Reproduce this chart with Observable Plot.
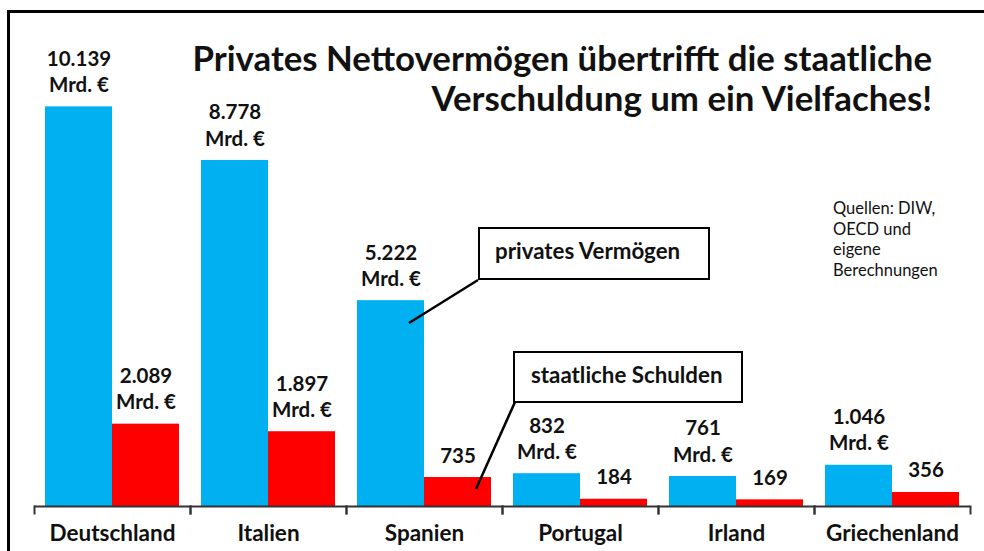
<!DOCTYPE html>
<html>
<head>
<meta charset="utf-8">
<script src="https://cdn.jsdelivr.net/npm/d3@7"></script>
<script src="https://cdn.jsdelivr.net/npm/@observablehq/plot@0.6"></script>
<style>
  html, body { margin: 0; padding: 0; background: #fff; overflow: hidden; }
  #wrap { position: relative; width: 984px; height: 551px; font-family: Lato, "Open Sans", sans-serif; color: #111; }
  #wrap svg.plot { position: absolute; left: 0; top: 0; }
  #border { position: absolute; left: 7px; top: 10px; width: 1100px; height: 700px; border: 3px solid #000; box-sizing: border-box; pointer-events: none; }
  #title { position: absolute; right: 52px; top: 38px; text-align: right; font-weight: 700; font-size: 34.8px; line-height: 40px; white-space: nowrap; }
  #sources { position: absolute; left: 833px; top: 198px; font-size: 16.5px; line-height: 20.7px; }
  .box { position: absolute; border: 2.5px solid #000; box-sizing: border-box; background: #fff; font-weight: 700; font-size: 22.3px; display: flex; align-items: center; padding-bottom: 6px; white-space: nowrap; }
  #anno { position: absolute; left: 0; top: 0; }
</style>
</head>
<body>
<div id="wrap">
  <div id="chart"></div>
  <div id="border"></div>
  <div id="title">Privates Nettovermögen übertrifft die staatliche<br>Verschuldung um ein Vielfaches!</div>
  <div id="sources">Quellen: DIW,<br>OECD und<br>eigene<br>Berechnungen</div>
  <svg id="anno" width="984" height="551">
    <line x1="478" y1="280" x2="409" y2="323" stroke="#000" stroke-width="2.5"/>
    <line x1="515" y1="402" x2="476" y2="489" stroke="#000" stroke-width="2.5"/>
  </svg>
  <div class="box" style="left:478px; top:227px; width:232px; height:53px; padding-left:15px;">privates Vermögen</div>
  <div class="box" style="left:513px; top:351px; width:230px; height:52px; padding-left:16px;">staatliche Schulden</div>
</div>
<script>
// ---- data ----
const countries = ["Deutschland", "Italien", "Spanien", "Portugal", "Irland", "Griechenland"];
const seriesNames = ["privates Vermögen", "staatliche Schulden"];
const privatesVermoegen = [10139, 8778, 5222, 832, 761, 1046];   // Mrd. €
const staatlicheSchulden = [2089, 1897, 735, 184, 169, 356];     // Mrd. €
const unitShownPrivate = [true, true, true, true, true, true];
const unitShownDebt = [true, true, false, false, false, false];
const unitLabel = "Mrd. €";
const seriesColors = ["#00B0F0", "#FF0000"];

const de = d3.formatLocale({decimal: ",", thousands: ".", grouping: [3], currency: ["", " €"]});
const fmt = de.format(",d");

const rows = countries.flatMap((c, i) => [
  {country: c, series: seriesNames[0], value: privatesVermoegen[i], unit: unitShownPrivate[i]},
  {country: c, series: seriesNames[1], value: staatlicheSchulden[i], unit: unitShownDebt[i]}
]).map(d => ({...d, label: fmt(d.value) + (d.unit ? "\n" + unitLabel : "")}));

const H = 551, MT = 33, MB = 45;
const chart = Plot.plot({
  width: 984,
  height: H,
  marginTop: MT,
  marginBottom: MB,
  marginLeft: 32,
  marginRight: 12,
  style: {fontFamily: "Lato, 'Open Sans', sans-serif", color: "#111", background: "transparent", overflow: "visible"},
  fx: {domain: countries, padding: 0, label: null},
  x: {domain: seriesNames, paddingInner: 0, paddingOuter: 0.15, axis: null},
  y: {domain: [0, 12000], axis: null},
  color: {domain: seriesNames, range: seriesColors},
  marks: [
    Plot.barY(rows, {fx: "country", x: "series", y: "value", fill: "series"}),
    Plot.ruleY([0], {stroke: "#333", strokeWidth: 2}),
    Plot.frame({anchor: "left", stroke: "#333", strokeWidth: 2, insetTop: H - MT - MB, insetBottom: -7}),
    Plot.frame({anchor: "right", stroke: "#333", strokeWidth: 2, insetTop: H - MT - MB, insetBottom: -7}),
    Plot.text(rows, {
      fx: "country", x: "series", y: "value", text: "label",
      lineAnchor: "bottom", lineHeight: 1.27, dy: -15,
      fontSize: 20.5, fontWeight: 700, fill: "#111"
    }),
    Plot.axisFx({anchor: "bottom", tickSize: 0, tickPadding: 19, fontSize: 22.5, fontWeight: 700, label: null})
  ]
});
document.getElementById("chart").appendChild(chart);
</script>
</body>
</html>
